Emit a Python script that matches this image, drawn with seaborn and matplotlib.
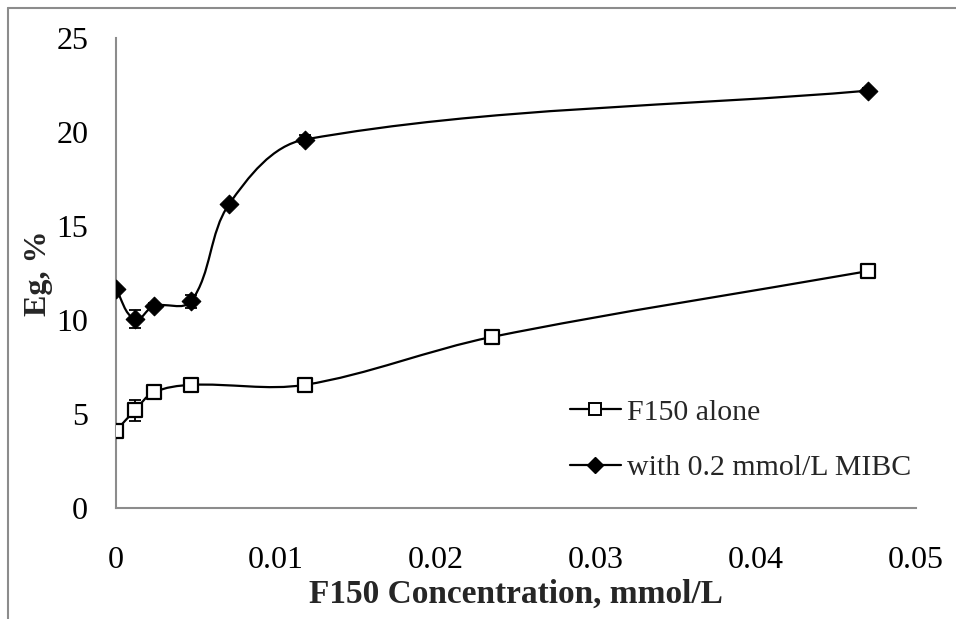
import numpy as np
import pandas as pd
import matplotlib
matplotlib.use("Agg")
import matplotlib.pyplot as plt
from matplotlib.path import Path
from matplotlib.patches import PathPatch
from matplotlib.lines import Line2D
import seaborn as sns

# ---- data ----
x_alone = [0.0, 0.00118, 0.00235, 0.0047, 0.0118, 0.0235, 0.047]
y_alone = [4.1, 5.2, 6.15, 6.55, 6.55, 9.1, 12.6]
e_alone = [0.2, 0.55, 0.2, 0.2, 0.15, 0.2, 0.2]

x_mibc = [0.0, 0.00118, 0.00235, 0.0047, 0.00706, 0.0118, 0.047]
y_mibc = [11.65, 10.05, 10.75, 11.0, 16.15, 19.6, 22.2]
e_mibc = [0.15, 0.5, 0.15, 0.35, 0.15, 0.25, 0.15]

labels = ["F150 alone", "with 0.2 mmol/L MIBC"]
x_ticks = [0, 0.01, 0.02, 0.03, 0.04, 0.05]
x_tick_labels = ["0", "0.01", "0.02", "0.03", "0.04", "0.05"]
y_ticks = [0, 5, 10, 15, 20, 25]

sns.set_theme(style="white")
plt.rcParams["font.family"] = ["Liberation Serif", "DejaVu Serif"]

fig = plt.figure(figsize=(9.56, 6.19), dpi=100)
ax = fig.add_axes([116/956, 1 - 508/619, 800/956, 470/619])
ax.set_xlim(0, 0.05)
ax.set_ylim(0, 25)


def smooth_path(xs, ys, ax):
    # Excel-like smoothed line: cubic Bezier through the data points,
    # tangents from neighbouring points, computed in display space
    pts = ax.transData.transform(np.column_stack([xs, ys]).astype(float))
    n = len(pts)
    tang = []
    for i in range(n):
        a = pts[i - 1] if i > 0 else pts[i]
        b = pts[i + 1] if i < n - 1 else pts[i]
        d = b - a
        tang.append(d / np.hypot(*d))
    verts = [pts[0]]
    codes = [Path.MOVETO]
    for i in range(n - 1):
        L = np.hypot(*(pts[i + 1] - pts[i]))
        c1 = pts[i] + tang[i] * L / 3.0
        c2 = pts[i + 1] - tang[i + 1] * L / 3.0
        verts += [c1, c2, pts[i + 1]]
        codes += [Path.CURVE4] * 3
    verts = ax.transData.inverted().transform(np.array(verts))
    return Path(verts, codes)


for xs, ys in [(x_alone, y_alone), (x_mibc, y_mibc)]:
    ax.add_patch(PathPatch(smooth_path(xs, ys, ax), facecolor="none",
                           edgecolor="black", lw=1.6, zorder=2))

df_a = pd.DataFrame({"x": x_alone, "y": y_alone, "e": e_alone})
df_m = pd.DataFrame({"x": x_mibc, "y": y_mibc, "e": e_mibc})

for df in (df_a, df_m):
    ax.errorbar(df["x"], df["y"], yerr=df["e"], fmt="none", ecolor="black",
                elinewidth=1.3, capsize=4.5, capthick=1.3, zorder=3)

sns.scatterplot(data=df_a, x="x", y="y", marker="s", s=100, facecolor="white",
                edgecolor="black", linewidth=1.6, ax=ax, zorder=4, legend=False)
sns.scatterplot(data=df_m, x="x", y="y", marker="D", s=90, color="black",
                edgecolor="black", linewidth=0.8, ax=ax, zorder=4, legend=False)

ax.set_xlim(0, 0.05)
ax.set_ylim(0, 25)
ax.set_xticks(x_ticks)
ax.set_xticklabels(x_tick_labels)
ax.set_yticks(y_ticks)

for side in ["top", "right"]:
    ax.spines[side].set_visible(False)
for side in ["left", "bottom"]:
    ax.spines[side].set_color("#8c8c8c")
    ax.spines[side].set_linewidth(1.5)
ax.tick_params(axis="both", direction="out", length=8, width=1.5, color="#8c8c8c",
               labelsize=23, labelcolor="black")
ax.tick_params(axis="x", pad=19)
ax.tick_params(axis="y", pad=12)
ax.set_xlabel("F150 Concentration, mmol/L", fontsize=24, fontweight="bold",
              labelpad=3)
ax.set_ylabel("Eg, %", fontsize=23, fontweight="bold", labelpad=2)
ax.grid(False)

handles = [
    Line2D([], [], color="black", lw=1.6, marker="s", markersize=9,
           markerfacecolor="white", markeredgecolor="black", markeredgewidth=1.4),
    Line2D([], [], color="black", lw=1.6, marker="D", markersize=8,
           markerfacecolor="black", markeredgecolor="black"),
]
ax.legend(handles, labels, loc="upper left", bbox_to_anchor=(0.5675, 0.232),
          frameon=False, fontsize=21.5, handlelength=1.7, handletextpad=0.2,
          labelspacing=0.95, borderaxespad=0, borderpad=0)

# outer chart frame (left and top edges)
fig.add_artist(Line2D([8/956, 8/956], [0, 1 - 8/619], transform=fig.transFigure,
                      color="#8c8c8c", lw=1.5))
fig.add_artist(Line2D([8/956, 1], [1 - 8/619, 1 - 8/619], transform=fig.transFigure,
                      color="#8c8c8c", lw=1.5))

fig.savefig("out.png", dpi=100, facecolor="white")
